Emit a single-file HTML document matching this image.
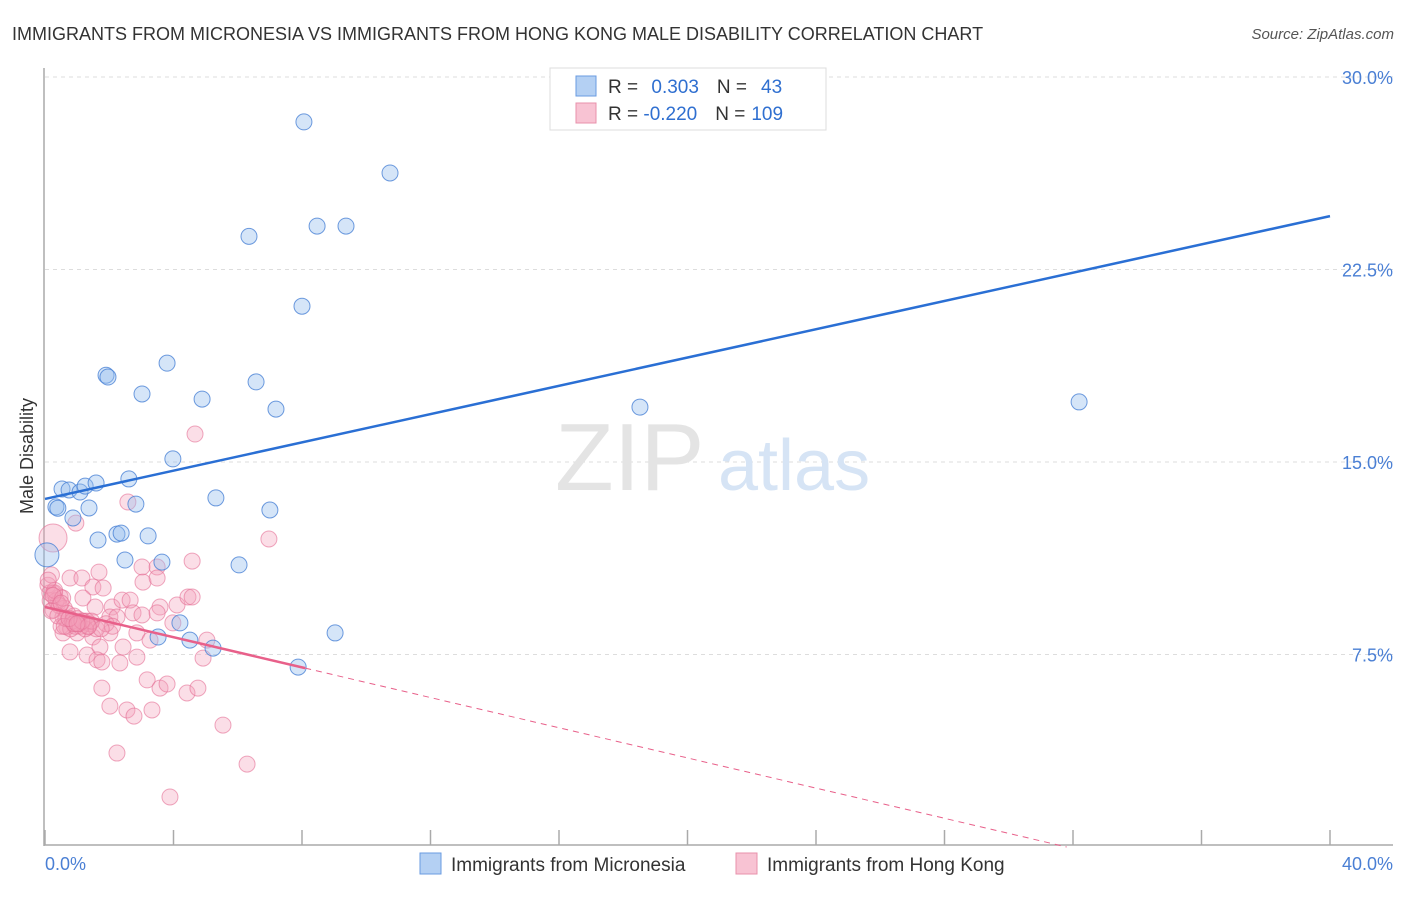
<!DOCTYPE html>
<html><head><meta charset="utf-8"><style>
body{margin:0;background:#fff;font-family:"Liberation Sans",sans-serif}
svg text{font-family:"Liberation Sans",sans-serif}
</style></head><body>
<svg id="chart" width="1406" height="892" xmlns="http://www.w3.org/2000/svg">
<text x="12" y="40" font-size="18" fill="#333">IMMIGRANTS FROM MICRONESIA VS IMMIGRANTS FROM HONG KONG MALE DISABILITY CORRELATION CHART</text>
<text x="1394" y="39" font-size="15" fill="#555" text-anchor="end" font-style="italic">Source: ZipAtlas.com</text>
<g id="grid"></g>
<text x="555" y="490" font-size="96" fill="#e4e4e4" font-family="Liberation Serif">ZIP</text>
<text x="718" y="490" font-size="72" fill="#d6e4f5">atlas</text>
<line x1="44" y1="68" x2="44" y2="846" stroke="#aaa" stroke-width="1.5"/>
<line x1="44" y1="845" x2="1393" y2="845" stroke="#aaa" stroke-width="1.5"/>
<g id="ticks"></g>
<g id="ylabels"></g>
<text x="45" y="870" font-size="18" fill="#4a7fd4">0.0%</text>
<text x="1393" y="870" font-size="18" fill="#4a7fd4" text-anchor="end">40.0%</text>
<text transform="translate(33,456) rotate(-90)" font-size="18" fill="#333" text-anchor="middle">Male Disability</text>
<g id="pink"></g>
<g id="blue"></g>
<g id="lines"></g>
<g>
<rect x="550" y="68" width="276" height="62" fill="#fff" stroke="#ddd"/>
<rect x="576" y="76" width="20" height="20" fill="#b4d0f3" stroke="#6a9be0"/>
<rect x="576" y="103" width="20" height="20" fill="#f8c3d3" stroke="#e890ab"/>
<text x="608" y="93" font-size="19" fill="#333">R = <tspan fill="#2f6fd0" dx="8">0.303</tspan><tspan dx="18" fill="#333">N =</tspan><tspan dx="14" fill="#2f6fd0">43</tspan></text>
<text x="608" y="120" font-size="19" fill="#333">R = <tspan fill="#2f6fd0">-0.220</tspan><tspan dx="18" fill="#333">N =</tspan><tspan dx="6" fill="#2f6fd0">109</tspan></text>
</g>
<g>
<rect x="420" y="853" width="21" height="21" fill="#b4d0f3" stroke="#6a9be0"/>
<text x="451" y="871" font-size="19" fill="#333">Immigrants from Micronesia</text>
<rect x="736" y="853" width="21" height="21" fill="#f8c3d3" stroke="#e890ab"/>
<text x="767" y="871" font-size="19" fill="#333">Immigrants from Hong Kong</text>
</g>
</svg>
<script>
const yTicks=[7.5,15,22.5,30];
const yTickLabels=["7.5%","15.0%","22.5%","30.0%"];
const xTicks=[0,4,8,12,16,20,24,28,32,36,40];
const blueX=[8.06,10.74,6.35,8.47,9.37,8.0,3.80,1.90,1.96,3.02,6.57,4.89,7.19,18.52,32.19,3.98,0.53,0.75,1.09,1.25,1.59,2.61,2.83,5.32,0.34,1.37,7.0,0.87,1.65,2.24,2.37,3.21,2.49,3.64,6.04,0.06,4.20,3.52,4.51,5.23,9.03,7.88,0.4];
const blueY=[28.25,26.26,23.79,24.19,24.19,21.07,18.85,18.38,18.31,17.65,18.12,17.45,17.06,17.14,17.34,15.12,13.95,13.91,13.83,14.06,14.18,14.34,13.36,13.60,13.25,13.21,13.13,12.82,11.96,12.19,12.23,12.12,11.18,11.10,10.99,11.38,8.73,8.18,8.06,7.75,8.34,7.01,13.2];
const pinkX=[2.58,0.96,6.97,0.25,4.58,3.02,3.49,3.05,3.49,1.68,0.78,1.15,1.49,1.81,0.25,0.47,1.18,1.56,2.09,2.40,2.65,3.58,4.11,4.45,4.58,0.25,0.56,0.87,1.09,0.68,1.34,2.02,2.24,2.74,3.02,3.49,3.98,0.56,1.00,1.49,2.02,2.86,3.27,1.71,2.43,5.04,0.78,1.31,1.62,1.77,2.33,2.86,4.92,1.77,3.18,3.58,3.80,4.42,4.76,2.02,2.55,2.77,3.33,5.54,2.24,6.29,3.89,4.67,0.09,0.16,0.3,0.4,0.2,0.6,0.9,1.2,0.35,0.7,1.0,1.4,0.5,0.8,1.1,1.3,1.6,1.9,2.1,0.15,0.45,0.65,0.95,1.25,0.3,0.55,0.85,1.05,1.45,1.75,0.2,0.4,0.6,0.9,1.15,1.35,0.1,0.25,0.5,0.75,1.0];
const pinkY=[13.44,12.62,12.00,12.04,11.14,10.91,10.91,10.32,10.48,10.71,10.48,10.48,10.13,10.09,9.90,9.74,9.70,9.35,9.35,9.62,9.62,9.35,9.43,9.74,9.74,9.23,8.96,8.73,8.73,8.57,8.57,8.96,8.96,9.12,9.04,9.12,8.73,8.34,8.34,8.18,8.34,8.34,8.06,7.79,7.79,8.06,7.60,7.48,7.29,7.21,7.17,7.40,7.36,6.19,6.51,6.19,6.35,6.00,6.19,5.49,5.34,5.10,5.34,4.75,3.66,3.23,1.95,16.09,10.2,9.6,9.9,9.5,10.6,9.3,9.0,8.8,9.6,9.1,8.9,8.7,8.6,8.5,8.6,8.8,8.5,8.7,8.6,9.9,9.4,8.9,8.6,8.5,10.0,9.7,8.8,8.7,8.8,8.5,9.2,9.0,8.6,8.7,8.8,8.6,10.4,9.8,9.5,8.9,8.7];
const blueTrend=[13.56,24.58];
const pinkTrend=[9.35,-0.294];
const NS='http://www.w3.org/2000/svg';
const X=v=>45+v*32.125, Y=v=>847-v*25.667;
function mk(tag,attrs,parent){const e=document.createElementNS(NS,tag);for(const k in attrs)e.setAttribute(k,attrs[k]);parent.appendChild(e);return e;}
const grid=document.getElementById('grid'),yl=document.getElementById('ylabels'),tk=document.getElementById('ticks');
yTicks.forEach((t,i)=>{
 const l=mk('line',{x1:45,x2:1393,y1:Y(t),y2:Y(t),stroke:'#ddd','stroke-dasharray':'4,4'},grid);
 
 
 const tx=mk('text',{x:1393,y:Y(t)+7,'font-size':18,fill:'#4a7fd4','text-anchor':'end'},yl);
 tx.textContent=yTickLabels[i];
 
 
});
xTicks.forEach(t=>{
 const l=mk('line',{x1:X(t),x2:X(t),y1:830,y2:845,stroke:'#aaa','stroke-width':1.5},tk);
 
 
});
const pg=document.getElementById('pink');
pinkX.forEach((v,i)=>{
 const c=mk('circle',{cx:X(v),cy:Y(pinkY[i]),r:(i===3?14:8),fill:'rgba(244,160,186,0.35)',stroke:'rgba(228,110,148,0.6)','stroke-width':1},pg);
 
 
});
const bg=document.getElementById('blue');
blueX.forEach((v,i)=>{
 const c=mk('circle',{cx:X(v),cy:Y(blueY[i]),r:(i===35?12:8),fill:'rgba(150,190,238,0.4)',stroke:'rgba(74,130,214,0.8)','stroke-width':1},bg);
 
 
});
const lg=document.getElementById('lines');
const bl=mk('line',{x1:X(0),y1:Y(blueTrend[0]),x2:X(40),y2:Y(blueTrend[1]),stroke:'#2a6fd4','stroke-width':2.5},lg);


const pEnd=8.1, pZero=-pinkTrend[0]/pinkTrend[1];
const ps=mk('line',{x1:X(0),y1:Y(pinkTrend[0]),x2:X(pEnd),y2:Y(pinkTrend[0]+pinkTrend[1]*pEnd),stroke:'#e8608a','stroke-width':2.5},lg);


const pd=mk('line',{x1:X(pEnd),y1:Y(pinkTrend[0]+pinkTrend[1]*pEnd),x2:X(pZero),y2:Y(0),stroke:'#e8608a','stroke-width':1,'stroke-dasharray':'6,5'},lg);


</script>
</body></html>
